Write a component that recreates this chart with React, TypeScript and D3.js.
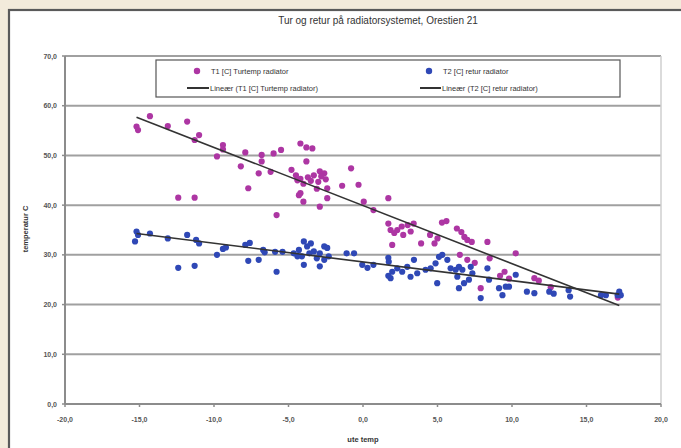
import React from "react";
import * as d3 from "d3";

const xTicks = [-20, -15, -10, -5, 0, 5, 10, 15, 20];
const yTicks = [0, 10, 20, 30, 40, 50, 60, 70];

const t1Points: [number, number][] = [
  [-15.2, 55.8], [-15.1, 55.1], [-14.3, 57.9], [-13.1, 55.9], [-11.8, 56.8], [-11.0, 54.1], [-11.3, 53.1],
  [-9.4, 52.1], [-9.4, 51.2], [-9.8, 49.8], [-8.2, 47.8], [-7.9, 50.6], [-6.8, 50.1], [-6.8, 48.8],
  [-7.0, 46.4], [-6.2, 46.7], [-6.0, 50.4], [-5.5, 51.1], [-4.2, 52.4], [-3.8, 51.6], [-3.4, 51.4],
  [-3.8, 48.8], [-4.8, 47.1], [-4.5, 46.0], [-4.2, 45.3], [-3.7, 45.6], [-3.3, 46.0], [-2.9, 46.8],
  [-2.6, 46.4], [-2.5, 45.2], [-3.0, 44.7], [-4.0, 44.3], [-3.5, 44.9], [-2.8, 45.8], [-4.4, 45.0],
  [-4.2, 42.4], [-4.3, 42.0], [-3.1, 43.3], [-2.4, 43.4], [-2.4, 41.4], [-4.0, 40.7], [-2.9, 39.7],
  [-1.4, 43.9], [-0.8, 47.4], [-0.3, 44.1], [0.05, 40.7], [0.7, 39.0], [1.7, 41.4], [-12.4, 41.5],
  [-11.3, 41.5], [-7.7, 43.4], [-5.8, 38.0], [1.7, 36.3], [1.85, 35.0], [1.96, 32.0], [2.3, 35.0],
  [2.6, 35.7], [3.0, 36.0], [3.4, 36.3], [3.2, 34.7], [2.7, 34.0], [2.1, 34.4], [3.9, 32.3], [4.5, 34.0],
  [4.8, 32.3], [5.3, 36.5], [5.6, 36.8], [5.0, 33.3], [6.3, 35.3], [6.6, 34.6], [6.8, 33.6], [7.0, 33.0],
  [7.3, 32.6], [6.5, 30.0], [7.0, 29.0], [7.5, 28.4], [8.35, 32.6], [8.5, 29.3], [7.9, 23.3], [9.2, 25.8],
  [9.5, 26.6], [9.8, 25.2], [10.25, 30.3], [11.5, 25.3], [11.8, 24.8], [12.6, 23.5], [17.1, 21.4],
];

const t2Points: [number, number][] = [
  [-15.2, 34.7], [-15.1, 34.0], [-15.3, 32.7], [-14.3, 34.3], [-13.1, 33.3], [-11.8, 34.0], [-11.2, 33.0],
  [-11.0, 32.3], [-12.4, 27.4], [-11.3, 27.8], [-9.8, 30.0], [-9.4, 31.2], [-9.2, 31.5], [-7.9, 32.0],
  [-7.6, 32.4], [-7.0, 29.0], [-7.7, 28.8], [-6.7, 31.0], [-6.6, 30.5], [-5.4, 30.6], [-5.9, 30.6],
  [-5.8, 26.6], [-4.65, 30.3], [-4.3, 31.0], [-3.97, 32.7], [-3.75, 31.7], [-3.5, 32.3], [-4.1, 29.7],
  [-3.6, 30.3], [-3.3, 30.7], [-2.9, 30.3], [-2.6, 31.7], [-2.4, 31.4], [-2.3, 29.7], [-3.97, 28.0],
  [-2.9, 27.7], [-2.6, 29.0], [-4.4, 29.7], [-3.1, 29.3], [-1.1, 30.3], [-0.6, 30.3], [-0.05, 28.0],
  [0.3, 27.4], [0.7, 28.0], [1.7, 29.4], [1.7, 25.8], [1.73, 28.6], [1.85, 25.3], [1.96, 26.6],
  [2.3, 27.3], [2.63, 26.6], [2.97, 27.6], [3.19, 25.6], [3.42, 29.0], [3.64, 26.3], [4.2, 27.0],
  [4.54, 27.3], [4.87, 28.3], [5.1, 29.6], [5.32, 30.0], [5.66, 29.0], [5.88, 27.3], [6.22, 27.0],
  [6.44, 27.6], [6.33, 25.6], [6.67, 27.0], [6.78, 24.3], [7.11, 25.0], [7.23, 27.6], [7.34, 26.3],
  [4.98, 24.3], [6.44, 23.3], [7.9, 21.3], [8.35, 27.3], [8.46, 25.0], [9.13, 23.3], [9.36, 21.9],
  [9.58, 23.6], [9.8, 23.6], [10.25, 26.0], [11.0, 22.6], [11.5, 22.3], [12.5, 22.6], [12.8, 22.2],
  [13.8, 22.9], [13.9, 21.6], [15.97, 21.9], [16.3, 21.9], [17.09, 21.9], [17.2, 22.6], [17.3, 21.9],
];

const trendT1: [number, number][] = [[-15.2, 57.7], [17.2, 19.8]];
const trendT2: [number, number][] = [[-15.2, 34.3], [17.2, 22.1]];

const title = "Tur og retur på radiatorsystemet, Orestien 21";
const xTitle = "ute temp";
const yTitle = "temperatur C";
const legendT1 = "T1 [C] Turtemp radiator";
const legendT2 = "T2 [C] retur radiator";
const legendL1 = "Lineær (T1 [C] Turtemp radiator)";
const legendL2 = "Lineær (T2 [C] retur radiator)";

const W = 681;
const H = 448;
const FONT = "'Liberation Sans', Arial, sans-serif";
const MAG = "#ad36a3";
const BLUE = "#2f48b6";

const fmt = (v: number) => v.toFixed(1).replace(".", ",");

export default function App() {
  const x = d3.scaleLinear().domain([-20, 20]).range([65, 661]);
  const y = d3.scaleLinear().domain([0, 70]).range([404, 56]);
  const line = d3
    .line<[number, number]>()
    .x((d) => x(d[0]))
    .y((d) => y(d[1]));

  return (
    <div style={{ position: "absolute", left: 0, top: 0 }}>
      <svg width={W} height={H} style={{ display: "block" }} fontFamily={FONT}>
        <rect x={0} y={0} width={W} height={H} fill="#f3ebdb" />
        <rect x={9} y={10} width={700} height={470} fill="#ffffff" stroke="#5a5a5a" strokeWidth={2.2} />
        <text x={378} y={24} textAnchor="middle" fontSize={10} fill="#333">
          {title}
        </text>
        {yTicks.filter((t) => t > 0).map((t) => (
          <line key={"g" + t} x1={x(-20)} x2={x(20)} y1={y(t)} y2={y(t)} stroke="#a0a0a0" strokeWidth={2} />
        ))}
        <line x1={x(20)} x2={x(20)} y1={y(70)} y2={y(0)} stroke="#cfcfcf" strokeWidth={1.5} />
        <line x1={x(-20)} x2={x(-20)} y1={y(70)} y2={y(0)} stroke="#8c8c8c" strokeWidth={2} />
        <line x1={x(-20)} x2={x(20)} y1={y(0)} y2={y(0)} stroke="#8c8c8c" strokeWidth={2} />
        {yTicks.map((t) => (
          <g key={"y" + t}>
            <line x1={x(-20) - 3} x2={x(-20)} y1={y(t)} y2={y(t)} stroke="#8c8c8c" strokeWidth={1.5} />
            <text x={57} y={y(t) + 2.5} textAnchor="end" fontSize={7} fill="#555" fontWeight="bold">
              {fmt(t)}
            </text>
          </g>
        ))}
        {xTicks.map((t) => (
          <g key={"x" + t}>
            <line x1={x(t)} x2={x(t)} y1={y(0)} y2={y(0) + 3} stroke="#8c8c8c" strokeWidth={1.5} />
            <text x={x(t)} y={422} textAnchor="middle" fontSize={7} fill="#555" fontWeight="bold">
              {fmt(t)}
            </text>
          </g>
        ))}
        <text x={363} y={442} textAnchor="middle" fontSize={7.5} fill="#333" fontWeight="bold">
          {xTitle}
        </text>
        <text
          transform={`translate(28, ${229}) rotate(-90)`}
          textAnchor="middle"
          fontSize={7.5}
          fill="#333"
          fontWeight="bold"
        >
          {yTitle}
        </text>
        {t1Points.map((p, i) => (
          <circle key={"a" + i} cx={x(p[0])} cy={y(p[1])} r={3.1} fill={MAG} />
        ))}
        {t2Points.map((p, i) => (
          <circle key={"b" + i} cx={x(p[0])} cy={y(p[1])} r={3.1} fill={BLUE} />
        ))}
        <path d={line(trendT1) || ""} stroke="#333" strokeWidth={1.6} fill="none" />
        <path d={line(trendT2) || ""} stroke="#333" strokeWidth={1.6} fill="none" />
        <rect x={156} y={60} width={464} height={37} fill="#ffffff" stroke="#555" strokeWidth={1.2} />
        <circle cx={197} cy={71} r={3.2} fill={MAG} />
        <text x={211} y={73.5} fontSize={7.5} fill="#333">{legendT1}</text>
        <circle cx={429} cy={71} r={3.2} fill={BLUE} />
        <text x={443} y={73.5} fontSize={7.5} fill="#333">{legendT2}</text>
        <line x1={187} x2={209} y1={88} y2={88} stroke="#333" strokeWidth={2} />
        <text x={210} y={90.5} fontSize={7.5} fill="#333">{legendL1}</text>
        <line x1={420} x2={441} y1={88} y2={88} stroke="#333" strokeWidth={2} />
        <text x={442} y={90.5} fontSize={7.5} fill="#333">{legendL2}</text>
      </svg>
    </div>
  );
}
